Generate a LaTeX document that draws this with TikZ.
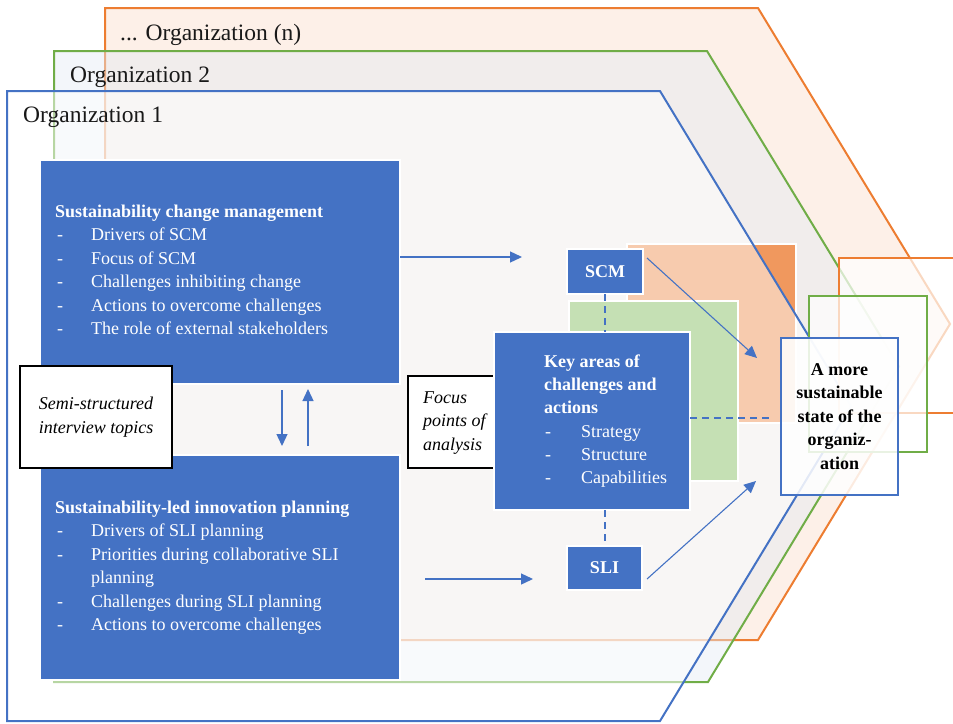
\documentclass[tikz,border=0pt]{standalone}
\usepackage{fontspec}
\setmainfont{Liberation Serif}
\usetikzlibrary{arrows.meta}
\definecolor{bl}{HTML}{4472C4}
\definecolor{gr}{HTML}{70AD47}
\definecolor{orr}{HTML}{ED7D31}
\definecolor{orfill}{HTML}{FDF0E8}
\definecolor{grfill}{HTML}{E4EAF3}
\definecolor{orsq}{HTML}{F0985E}
\definecolor{grsq}{HTML}{C5E0B4}
\begin{document}
\begin{tikzpicture}[x=1pt,y=-1pt,
  bx/.style={draw=white, line width=1.2pt, fill=bl, inner sep=0pt, outer sep=0pt, anchor=north west},
  wbx/.style={draw=black, line width=2.8pt, fill=white, inner sep=0pt, outer sep=0pt, anchor=north west},
  t/.style={anchor=base west, inner sep=0pt, font=\fontsize{18}{22}\selectfont, text=white},
  tb/.style={t, font=\fontsize{18}{22}\selectfont\bfseries},
  ti/.style={anchor=base west, inner sep=0pt, font=\fontsize{18}{22}\selectfont\itshape, text=black},
  org/.style={anchor=base west, inner sep=0pt, font=\fontsize{23.5}{28}\selectfont, text=black!90},
  arr/.style={draw=bl, line width=1.3pt, -{Triangle[length=12pt,width=11pt]}},
  dsh/.style={draw=bl, line width=2pt, dash pattern=on 7pt off 5pt},
]
\useasboundingbox (0,0) rectangle (953,723);
\clip (0,0) rectangle (953,723);

% organization bands
\draw[draw=orr, fill=orfill, line width=2pt] (105,8) -- (758,8) -- (950,324) -- (758,640) -- (105,640) -- cycle;
\draw[draw=gr, fill=grfill, fill opacity=0.45, line width=2pt] (54,51) -- (707,51) -- (899,366.5) -- (708,682) -- (54,682) -- cycle;
\draw[draw=white, fill=orsq, line width=2.5pt] (627,244) rectangle (796,423);
\draw[draw=bl, fill=white, fill opacity=0.5, line width=2pt] (7,91) -- (660,91) -- (851,406) -- (660,721) -- (7,721) -- cycle;
\draw[draw=white, fill=grsq, line width=2.5pt] (569,301) rectangle (738,481);

\node[org] (orgn) at (120,40) {... Organization (n)};
\node[org] (org2) at (70,82) {Organization 2};
\node[org] (org1) at (23,122) {Organization 1};

% left boxes
\node[bx, minimum width=360pt, minimum height=224pt] (box1) at (40,160) {};
\node[bx, minimum width=360pt, minimum height=225pt] (box2) at (40,455) {};

\node[tb] (b1t) at (55,217) {Sustainability change management};
\node[t] (b1a) at (57,240.5) {\makebox[34pt][l]{-}Drivers of SCM};
\node[t] (b1b) at (57,264) {\makebox[34pt][l]{-}Focus of SCM};
\node[t] (b1c) at (57,287.5) {\makebox[34pt][l]{-}Challenges inhibiting change};
\node[t] (b1d) at (57,311) {\makebox[34pt][l]{-}Actions to overcome challenges};
\node[t] (b1e) at (57,334.5) {\makebox[34pt][l]{-}The role of external stakeholders};

\node[tb] (b2t) at (55,513) {Sustainability-led innovation planning};
\node[t] (b2a) at (57,536.5) {\makebox[34pt][l]{-}Drivers of SLI planning};
\node[t] (b2b) at (57,560) {\makebox[34pt][l]{-}Priorities during collaborative SLI};
\node[t] (b2c) at (91,583.5) {planning};
\node[t] (b2d) at (57,607) {\makebox[34pt][l]{-}Challenges during SLI planning};
\node[t] (b2e) at (57,630.5) {\makebox[34pt][l]{-}Actions to overcome challenges};

\node[wbx, minimum width=152pt, minimum height=102pt, align=center,
  font=\fontsize{18}{24}\selectfont\itshape] (semi) at (20,366) {Semi-structured\\interview topics};

% vertical arrows
\draw[arr] ([xshift=62pt,yshift=-6pt]box1.south) -- ([xshift=62pt,yshift=9pt]box2.north);
\draw[arr] ([xshift=88pt,yshift=9pt]box2.north) -- ([xshift=88pt,yshift=-5pt]box1.south);

% focus box
\node[wbx, minimum width=120pt, minimum height=92pt] (focus) at (408,376) {};
\node[ti] (f1) at (423,403) {Focus};
\node[ti] (f2) at (423,426.5) {points of};
\node[ti] (f3) at (423,450) {analysis};

% key box, SCM, SLI
\node[bx, minimum width=196pt, minimum height=178pt] (key) at (494,332) {};
\node[tb] (k1) at (544,367) {Key areas of};
\node[tb] (k2) at (544,390.3) {challenges and};
\node[tb] (k3) at (544,413.6) {actions};
\node[t] (k4) at (545,437) {\makebox[36pt][l]{-}Strategy};
\node[t] (k5) at (545,460.3) {\makebox[36pt][l]{-}Structure};
\node[t] (k6) at (545,483.6) {\makebox[36pt][l]{-}Capabilities};

\node[bx, minimum width=76pt, minimum height=45pt, text=white,
  font=\fontsize{18}{22}\selectfont\bfseries] (scm) at (567,249) {SCM};
\node[bx, minimum width=75pt, minimum height=44pt, text=white,
  font=\fontsize{18}{22}\selectfont\bfseries] (sli) at (567,546) {SLI};

\draw[dsh] (scm.south) -- (scm.south |- key.north);
\draw[dsh] (key.south -| sli.north) -- (sli.north);

\draw[arr] ([yshift=15pt]box1.east) -- ([xshift=-45pt,yshift=14.5pt]scm.west);
\draw[arr] ([xshift=25pt,yshift=-11.5pt]box2.east) -- ([xshift=-34pt,yshift=-11pt]sli.west);

% right stacked boxes
\draw[draw=orr, line width=2.5pt, fill=white, fill opacity=0.7] (839,258) rectangle (975,413);
\draw[draw=gr, line width=2.5pt, fill=white, fill opacity=0.7] (809,296) rectangle (927,452);
\node[draw=bl, line width=2.5pt, fill=white, fill opacity=0.85, text opacity=1,
  inner sep=0pt, outer sep=0pt, anchor=north west, minimum width=117pt, minimum height=157pt,
  align=center, font=\fontsize{18}{23.5}\selectfont\bfseries] (fin) at (781,338)
  {A more\\sustainable\\state of the\\organiz-\\ation};

\coordinate (dashend) at (770,418);
\draw[dsh] (key.east |- dashend) -- (dashend);

\draw[arr, line width=1.1pt] ([xshift=4pt,yshift=13.5pt]scm.east) -- ([xshift=-24pt,yshift=-20pt]fin.north west);
\draw[arr, line width=1.1pt] ([xshift=5pt,yshift=-11pt]sli.east) -- ([xshift=-25pt,yshift=14pt]fin.south west);
\end{tikzpicture}
\end{document}
